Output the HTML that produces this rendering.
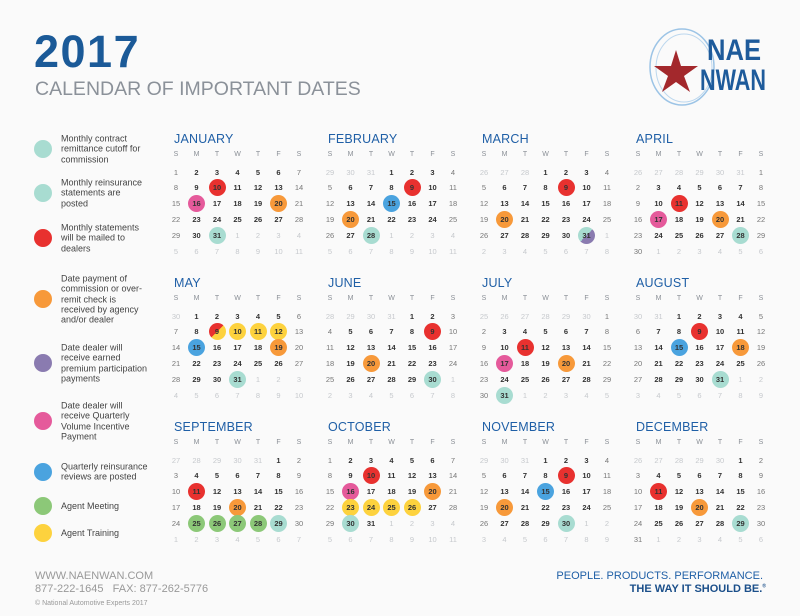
<!DOCTYPE html>
<html><head><meta charset="utf-8">
<style>
body{margin:0;background:#fafafa;font-family:"Liberation Sans",sans-serif;}
#page{position:relative;width:800px;height:616px;overflow:hidden;background:#fafafa;}
.abs{position:absolute;}
.mt{position:absolute;font-size:12.5px;color:#1f5fa6;letter-spacing:0.2px;}
.dh{position:absolute;font-size:7px;color:#8a8f96;width:16px;text-align:center;}
.d{position:absolute;width:17px;height:17px;line-height:17px;text-align:center;font-size:7.5px;border-radius:50%;}
.cur{color:#333;font-weight:bold;}
.we{color:#777;}
.oth{color:#c6c9cd;}
.leg-dot{position:absolute;left:34px;width:18px;height:18px;border-radius:50%;}
.leg-txt{position:absolute;left:61px;width:88px;font-size:9px;line-height:10.3px;color:#444;transform:translateY(-50%);}
</style></head><body>
<div id="page">
  <div class="abs" style="left:34px;top:26px;font-size:45px;letter-spacing:1.5px;font-weight:bold;color:#1b5a98;">2017</div>
  <div class="abs" style="left:35px;top:78px;font-size:19.5px;color:#8b9199;">CALENDAR OF IMPORTANT DATES</div>
  <svg class="abs" style="left:640px;top:22px" width="140" height="90" viewBox="0 0 140 90">
    <ellipse cx="42" cy="45" rx="32" ry="38" fill="none" stroke="#9cc4e6" stroke-width="1.5"/>
    <ellipse cx="44" cy="46" rx="28" ry="34" fill="none" stroke="#bcd7ee" stroke-width="1"/>
    <polygon points="36,28 41,44 58,44 44,54 50,70 36,60 22,70 28,54 14,44 31,44" fill="#a3282c"/>
    <text x="67" y="38" font-family="Liberation Sans" font-weight="bold" font-size="30" fill="#1e5b9b" textLength="54" lengthAdjust="spacingAndGlyphs">NAE</text>
    <text x="60" y="68" font-family="Liberation Sans" font-weight="bold" font-size="30" fill="#1e5b9b" textLength="66" lengthAdjust="spacingAndGlyphs">NWAN</text>
  </svg>
  <div id="legend"></div>
  <div id="months"></div>
  <div class="abs" style="left:35px;top:570px;font-size:11px;color:#999;">WWW.NAENWAN.COM</div>
  <div class="abs" style="left:35px;top:583px;font-size:11px;color:#999;">877-222-1645 &nbsp;&nbsp;FAX: 877-262-5776</div>
  <div class="abs" style="left:35px;top:600px;font-size:7px;color:#999;">© National Automotive Experts 2017</div>
  <div class="abs" style="right:37px;top:570px;font-size:11px;color:#1f5fa6;text-align:right;">PEOPLE. PRODUCTS. PERFORMANCE.</div>
  <div class="abs" style="right:34px;top:583px;font-size:11px;color:#1b4f8a;font-weight:bold;text-align:right;">THE WAY IT SHOULD BE.<sup style="font-size:5px">®</sup></div>
</div>
<script>
const colors={teal:"#a8dcd1",red:"#e8312f",orange:"#f7993a",purple:"#8a7bb0",pink:"#e55a9b",blue:"#4aa3df",green:"#8cc878",yellow:"#fdd23e"};
const legendKeys=["teal","teal","red","orange","purple","pink","blue","green","yellow"];
const legendTexts=["Monthly contract remittance cutoff for commission","Monthly reinsurance statements are posted","Monthly statements will be mailed to dealers","Date payment of commission or over-remit check is received by agency and/or dealer","Date dealer will receive earned premium participation payments","Date dealer will receive Quarterly Volume Incentive Payment","Quarterly reinsurance reviews are posted","Agent Meeting","Agent Training"];
const legendY=[149,193,238,299,363,421,472,506,533];
const monthNames=["JANUARY","FEBRUARY","MARCH","APRIL","MAY","JUNE","JULY","AUGUST","SEPTEMBER","OCTOBER","NOVEMBER","DECEMBER"];
const events=[
 {10:"red",16:"pink",20:"orange",31:"teal"},
 {9:"red",15:"blue",20:"orange",28:"teal"},
 {9:"red",20:"orange",31:"teal/purple"},
 {11:"red",17:"pink",20:"orange",28:"teal"},
 {9:"red/yellow",10:"yellow",11:"yellow",12:"yellow",15:"blue",19:"orange",31:"teal"},
 {9:"red",20:"orange",30:"teal"},
 {11:"red",17:"pink",20:"orange",31:"teal"},
 {9:"red",15:"blue",18:"orange",31:"teal"},
 {11:"red",20:"orange",25:"green",26:"green",27:"green",28:"green",29:"teal"},
 {10:"red",16:"pink",20:"orange",23:"yellow",24:"yellow",25:"yellow",26:"yellow",30:"teal"},
 {9:"red",15:"blue",20:"orange",30:"teal"},
 {11:"red",20:"orange",29:"teal"}];
const dayHeads=["S","M","T","W","T","F","S"];

const leg=document.getElementById('legend');
legendKeys.forEach((k,i)=>{
  const d=document.createElement('div');d.className='leg-dot';
  
  
  d.style.top=(legendY[i]-9)+'px';d.style.background=colors[k];leg.appendChild(d);
  const t=document.createElement('div');t.className='leg-txt';
  
  
  t.textContent=legendTexts[i];
  t.style.top=legendY[i]+'px';leg.appendChild(t);
});

const wrap=document.getElementById('months');
for(let m=0;m<12;m++){
  const bx=174+(m%4)*154, by=140+Math.floor(m/4)*144;
  const blk=document.createElement('div');
  
  
  wrap.appendChild(blk);
  const t=document.createElement('div');t.className='mt';
  
  
  t.textContent=monthNames[m];t.style.left=bx+'px';t.style.top=(by-8)+'px';blk.appendChild(t);
  dayHeads.forEach((h,c)=>{
    const e=document.createElement('div');e.className='dh';
    
    
    e.textContent=h;e.style.left=(bx+2+c*20.5-8)+'px';e.style.top=(by+11)+'px';blk.appendChild(e);
  });
  const first=new Date(2017,m,1).getDay();
  const dim=new Date(2017,m+1,0).getDate();
  const prevDim=new Date(2017,m,0).getDate();
  for(let i=0;i<42;i++){
    const r=Math.floor(i/7),c=i%7;
    let n=i-first+1,cls;
    if(n<1){n=prevDim+n;cls='oth';}else if(n>dim){n=n-dim;cls='oth';}else cls=(c==0||c==6)?'we':'cur';
    const e=document.createElement('div');e.className='d '+cls;
    
    
    e.textContent=n;
    e.style.left=(bx+2+c*20.5-8.5)+'px';e.style.top=(by+32+r*15.8-8.5)+'px';
    if(cls!=='oth'&&events[m][n]){
      const ev=events[m][n].split('/');
      if(ev.length==2)e.style.background='linear-gradient(135deg,'+colors[ev[0]]+' 50%,'+colors[ev[1]]+' 50%)';
      else e.style.background=colors[ev[0]];
      e.style.color='#333';e.style.fontWeight='bold';
    }
    blk.appendChild(e);
  }
}
</script>
</body></html>
